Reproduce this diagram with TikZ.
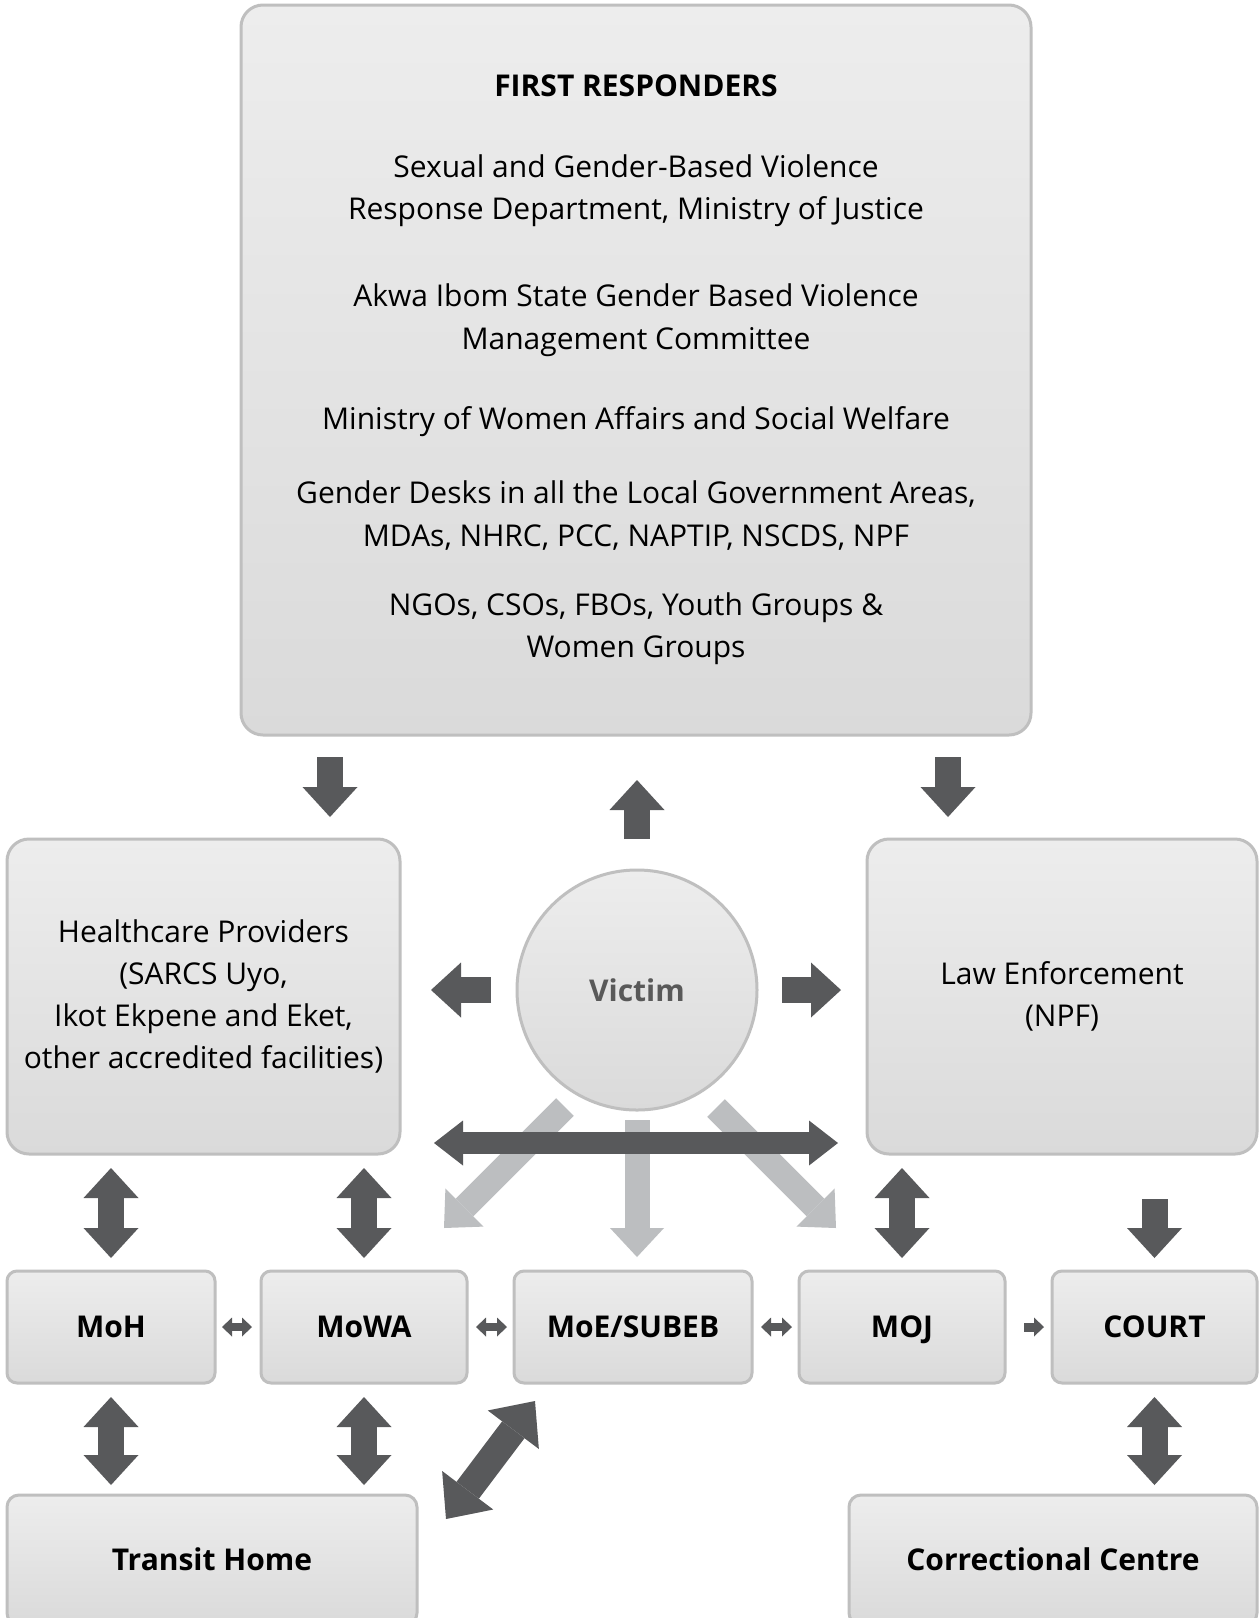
\documentclass[tikz,border=0pt]{standalone}
\usepackage{fontspec}
\setmainfont{Open Sans}
\usetikzlibrary{arrows.meta,calc}
\definecolor{boxtop}{HTML}{EDEDED}
\definecolor{boxbot}{HTML}{DADADA}
\definecolor{boxline}{HTML}{BFBFBF}
\definecolor{arrdark}{HTML}{58595B}
\definecolor{arrlight}{HTML}{BCBEC0}
\definecolor{victxt}{HTML}{595959}
\tikzset{
  card/.style={draw=boxline, line width=3pt, top color=boxtop, bottom color=boxbot,
    align=center, inner sep=0pt, font=\fontsize{30}{42.3}\selectfont},
  bigcard/.style={card, rounded corners=22pt},
  smallcard/.style={card, rounded corners=10pt, text height=27.4pt, text depth=6pt,
    font=\fontsize{30}{42.3}\selectfont\bfseries},
  midcard/.style={smallcard, rounded corners=12pt},
  darr/.style={draw=arrdark, line width=26pt, -{Triangle[length=30pt,width=55pt,line width=0pt]}},
  ddarr/.style={draw=arrdark, line width=26pt, {Triangle[length=30pt,width=55pt,line width=0pt]}-{Triangle[length=30pt,width=55pt,line width=0pt]}},
  longarr/.style={draw=arrdark, line width=22pt, {Triangle[length=29pt,width=45pt,line width=0pt]}-{Triangle[length=29pt,width=45pt,line width=0pt]}},
  diagarr/.style={draw=arrdark, line width=28pt, {Triangle[length=36pt,width=64pt,line width=0pt]}-{Triangle[length=36pt,width=64pt,line width=0pt]}},
  larr/.style={draw=arrlight, line width=25pt, -{Triangle[length=29pt,width=54pt,line width=0pt]}},
  sdarr/.style={draw=arrdark, line width=8pt, {Triangle[length=10pt,width=19pt,line width=0pt]}-{Triangle[length=10pt,width=19pt,line width=0pt]}},
  sarr/.style={draw=arrdark, line width=9pt, -{Triangle[length=10pt,width=19pt,line width=0pt]}},
}
\begin{document}
\begin{tikzpicture}[x=1pt,y=-1pt]
\useasboundingbox[fill=white] (0,0) rectangle (1259,1618);

% boxes
\node[bigcard, minimum width=790pt, minimum height=730pt] (fr) at (636,370) {%
{\bfseries FIRST RESPONDERS}\\[38pt]
Sexual and Gender-Based Violence\\
Response Department, Ministry of Justice\\[45pt]
Akwa Ibom State Gender Based Violence\\
Management Committee\\[38pt]
Ministry of Women Affairs and Social Welfare\\[32pt]
Gender Desks in all the Local Government Areas,\\
MDAs, NHRC, PCC, NAPTIP, NSCDS, NPF\\[27pt]
NGOs, CSOs, FBOs, Youth Groups \&\\
Women Groups};

\node[bigcard, minimum width=393pt, minimum height=315pt] (hc) at (203.5,996.5) {%
Healthcare Providers\\(SARCS Uyo,\\Ikot Ekpene and Eket,\\other accredited facilities)};
\node[bigcard, minimum width=390pt, minimum height=315pt] (law) at (1062,996.5) {%
Law Enforcement\\(NPF)};
\node[card, circle, minimum size=240pt, text=victxt, font=\fontsize{30}{42.3}\selectfont\bfseries] (vic) at (637,990) {Victim};

\node[smallcard, minimum width=208pt, minimum height=112pt] (moh) at (111,1327) {MoH};
\node[smallcard, minimum width=206pt, minimum height=112pt] (mowa) at (364,1327) {MoWA};
\node[smallcard, minimum width=238pt, minimum height=112pt] (moe) at (633,1327) {MoE/SUBEB};
\node[smallcard, minimum width=206pt, minimum height=112pt] (moj) at (902,1327) {MOJ};
\node[smallcard, minimum width=205pt, minimum height=112pt] (court) at (1154.5,1327) {COURT};

\node[midcard, minimum width=410pt, minimum height=130pt] (th) at (212,1560) {Transit Home};
\node[midcard, minimum width=408pt, minimum height=130pt] (cc) at (1053,1560) {Correctional Centre};

% helper coordinates
\coordinate (cx1) at (330,0);
\coordinate (cx2) at (948,0);
\coordinate (cy) at (0,1143);
\coordinate (l1s) at (565,1107);
\coordinate (l1e) at (444,1228);
\coordinate (l2s) at (716,1108);
\coordinate (l2e) at (836,1228);
\coordinate (d1s) at (446,1519);
\coordinate (d1e) at (535,1401);

% light arrows from the victim
\draw[larr] (l1s) -- (l1e);
\draw[larr] (l2s) -- (l2e);
\draw[larr, shorten <=8.5pt, shorten >=12.5pt] (vic.south) -- (vic.south |- moe.north);

% dark arrows
\draw[darr, shorten <=20.5pt, shorten >=20.5pt] (fr.south -| cx1) -- (hc.north -| cx1);
\draw[darr, shorten <=20.5pt, shorten >=20.5pt] (fr.south -| cx2) -- (law.north -| cx2);
\draw[darr, shorten <=29.5pt, shorten >=43.5pt] (vic.north) -- (vic.north |- fr.south);
\draw[darr, shorten <=24.5pt, shorten >=29.5pt] (vic.west) -- (vic.west -| hc.east);
\draw[darr, shorten <=23.5pt, shorten >=24.5pt] (vic.east) -- (vic.east -| law.west);
\draw[longarr, shorten <=32.5pt, shorten >=27.5pt] (hc.east |- cy) -- (law.west |- cy);

\draw[ddarr, shorten <=11.5pt, shorten >=12.5pt] (moh.north) -- (moh.north |- hc.south);
\draw[ddarr, shorten <=11.5pt, shorten >=12.5pt] (mowa.north) -- (mowa.north |- hc.south);
\draw[ddarr, shorten <=11.5pt, shorten >=12.5pt] (moj.north) -- (moj.north |- law.south);
\draw[darr, shorten <=43.5pt, shorten >=11.5pt] (court.north |- law.south) -- (court.north);

\draw[ddarr, shorten <=12.5pt, shorten >=8.5pt] (moh.south) -- (moh.south |- th.north);
\draw[ddarr, shorten <=12.5pt, shorten >=8.5pt] (mowa.south) -- (mowa.south |- th.north);
\draw[ddarr, shorten <=12.5pt, shorten >=8.5pt] (court.south) -- (court.south |- cc.north);
\draw[diagarr] (d1s) -- (d1e);

\draw[sdarr, shorten <=5.5pt, shorten >=7.5pt] (moh.east) -- (mowa.west);
\draw[sdarr, shorten <=7.5pt, shorten >=5.5pt] (mowa.east) -- (moe.west);
\draw[sdarr, shorten <=7.5pt, shorten >=5.5pt] (moe.east) -- (moj.west);
\draw[sarr, shorten <=17.5pt, shorten >=6.5pt] (moj.east) -- (court.west);
\end{tikzpicture}
\end{document}
